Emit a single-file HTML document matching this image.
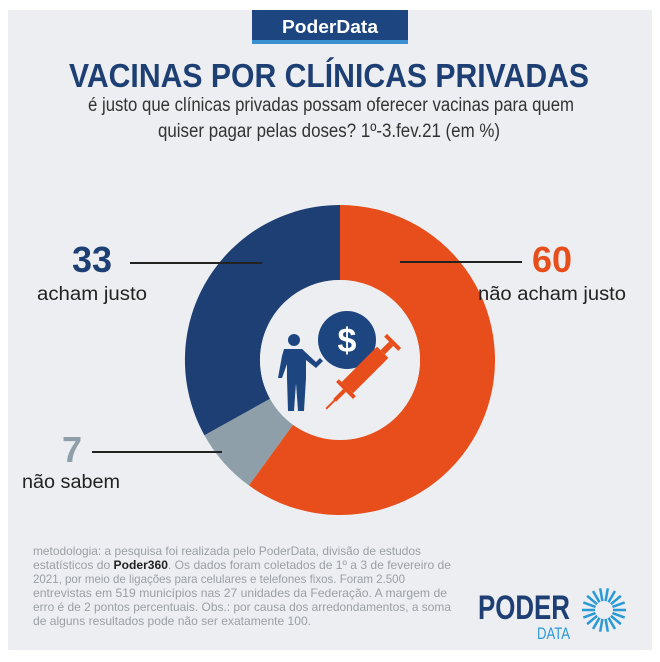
<!DOCTYPE html>
<html><head><meta charset="utf-8"><style>
html,body{margin:0;padding:0;background:#fff}
svg{display:block}
text{font-family:"Liberation Sans",sans-serif}
</style></head><body>
<svg width="660" height="662" viewBox="0 0 660 662" xmlns="http://www.w3.org/2000/svg">
<rect x="8" y="10" width="644" height="640" fill="#eceef1"/>
<rect x="252" y="10" width="156" height="32" fill="#1d4680"/>
<rect x="252" y="40" width="156" height="4" fill="#3b8fd3"/>
<text x="330" y="33" text-anchor="middle" font-size="18" font-weight="bold" fill="#fff" textLength="96" lengthAdjust="spacingAndGlyphs">PoderData</text>
<text x="329" y="87" text-anchor="middle" font-size="33" font-weight="bold" fill="#1d3f73" textLength="520" lengthAdjust="spacingAndGlyphs">VACINAS POR CLÍNICAS PRIVADAS</text>
<text x="331" y="111" text-anchor="middle" font-size="19" fill="#333" textLength="486" lengthAdjust="spacingAndGlyphs">é justo que clínicas privadas possam oferecer vacinas para quem</text>
<text x="329" y="137" text-anchor="middle" font-size="19" fill="#333" textLength="342" lengthAdjust="spacingAndGlyphs">quiser pagar pelas doses? 1º-3.fev.21 (em %)</text>

<!-- donut: center 340,360 R 155 r 80 -->
<g transform="translate(340,360)">
<path d="M0,-155 A155,155 0 1 1 -91.1,125.4 L-47.0,64.7 A80,80 0 1 0 0,-80 Z" fill="#e84e1b"/>
<path d="M-91.1,125.4 A155,155 0 0 1 -135.6,75.2 L-70.0,38.8 A80,80 0 0 0 -47.0,64.7 Z" fill="#8e9fa9"/>
<path d="M-135.6,75.2 A155,155 0 0 1 0,-155 L0,-80 A80,80 0 0 0 -70.0,38.8 Z" fill="#1e3f73"/>
<circle r="80" fill="#eceef1"/>
</g>

<!-- icon -->
<circle cx="347" cy="340" r="29" fill="#1d4680"/>
<text x="347" y="352" text-anchor="middle" font-size="34" font-weight="bold" fill="#fff">$</text>
<g fill="#1d4680">
<circle cx="294" cy="340" r="6"/>
<path d="M284,349 h18 l14,13 l4,-4 l3,3 l-7,7 l-10,-8 v18 l-2,33 h-6 l-2,-28 l-2,28 h-6 l-1,-33 v-14 l-5,14 h-4 l4,-22 z"/>
</g>
<g transform="translate(370,365) rotate(-45)" fill="#e84e1b">
<rect x="-32" y="-8" width="50" height="16"/>
<rect x="18" y="-3" width="12" height="6"/>
<rect x="30" y="-10" width="4" height="20"/>
<rect x="-36" y="-12" width="4" height="24"/>
<rect x="-50" y="-2" width="14" height="4"/>
<rect x="-62" y="-1" width="12" height="2"/>
</g>

<!-- labels -->
<text x="92" y="272" text-anchor="middle" font-size="36" font-weight="bold" fill="#1e3f73">33</text>
<rect x="130" y="262" width="132" height="2" fill="#222"/>
<text x="92" y="300" text-anchor="middle" font-size="19" fill="#222" textLength="110" lengthAdjust="spacingAndGlyphs">acham justo</text>
<text x="552" y="272" text-anchor="middle" font-size="36" font-weight="bold" fill="#e84e1b">60</text>
<rect x="400" y="261" width="122" height="2" fill="#222"/>
<text x="552" y="300" text-anchor="middle" font-size="19" fill="#222" textLength="148" lengthAdjust="spacingAndGlyphs">não acham justo</text>
<text x="72" y="462" text-anchor="middle" font-size="36" font-weight="bold" fill="#8e9fa9">7</text>
<rect x="92" y="451" width="130" height="2" fill="#222"/>
<text x="71" y="488" text-anchor="middle" font-size="19" fill="#222" textLength="98" lengthAdjust="spacingAndGlyphs">não sabem</text>

<!-- footnote -->
<g font-size="12" fill="#9a9fa5">
<text x="33" y="555" textLength="388" lengthAdjust="spacingAndGlyphs">metodologia: a pesquisa foi realizada pelo PoderData, divisão de estudos</text>
<text x="33" y="569" textLength="418" lengthAdjust="spacingAndGlyphs">estatísticos do <tspan font-weight="bold" fill="#222">Poder360</tspan>. Os dados foram coletados de 1º a 3 de fevereiro de</text>
<text x="33" y="583" textLength="372" lengthAdjust="spacingAndGlyphs">2021, por meio de ligações para celulares e telefones fixos. Foram 2.500</text>
<text x="33" y="597" textLength="414" lengthAdjust="spacingAndGlyphs">entrevistas em 519 municípios nas 27 unidades da Federação. A margem de</text>
<text x="33" y="611" textLength="418" lengthAdjust="spacingAndGlyphs">erro é de 2 pontos percentuais. Obs.: por causa dos arredondamentos, a soma</text>
<text x="33" y="625" textLength="278" lengthAdjust="spacingAndGlyphs">de alguns resultados pode não ser exatamente 100.</text>
</g>

<!-- logo -->
<text x="478" y="619" font-size="34" font-weight="bold" fill="#1e3f73" textLength="92" lengthAdjust="spacingAndGlyphs">PODER</text>
<text x="537" y="639" font-size="17" fill="#2a9ad6" textLength="33" lengthAdjust="spacingAndGlyphs">DATA</text>
<g transform="translate(604,610)" stroke="#2a9ad6" stroke-width="2.5">
<line x1="9" y1="0" x2="22" y2="0"/>
<line x1="9" y1="0" x2="22" y2="0" transform="rotate(20)"/>
<line x1="9" y1="0" x2="22" y2="0" transform="rotate(40)"/>
<line x1="9" y1="0" x2="22" y2="0" transform="rotate(60)"/>
<line x1="9" y1="0" x2="22" y2="0" transform="rotate(80)"/>
<line x1="9" y1="0" x2="22" y2="0" transform="rotate(100)"/>
<line x1="9" y1="0" x2="22" y2="0" transform="rotate(120)"/>
<line x1="9" y1="0" x2="22" y2="0" transform="rotate(140)"/>
<line x1="9" y1="0" x2="22" y2="0" transform="rotate(160)"/>
<line x1="9" y1="0" x2="22" y2="0" transform="rotate(180)"/>
<line x1="9" y1="0" x2="22" y2="0" transform="rotate(200)"/>
<line x1="9" y1="0" x2="22" y2="0" transform="rotate(220)"/>
<line x1="9" y1="0" x2="22" y2="0" transform="rotate(240)"/>
<line x1="9" y1="0" x2="22" y2="0" transform="rotate(260)"/>
<line x1="9" y1="0" x2="22" y2="0" transform="rotate(280)"/>
<line x1="9" y1="0" x2="22" y2="0" transform="rotate(300)"/>
<line x1="9" y1="0" x2="22" y2="0" transform="rotate(320)"/>
<line x1="9" y1="0" x2="22" y2="0" transform="rotate(340)"/>
</g>
</svg>
</body></html>
